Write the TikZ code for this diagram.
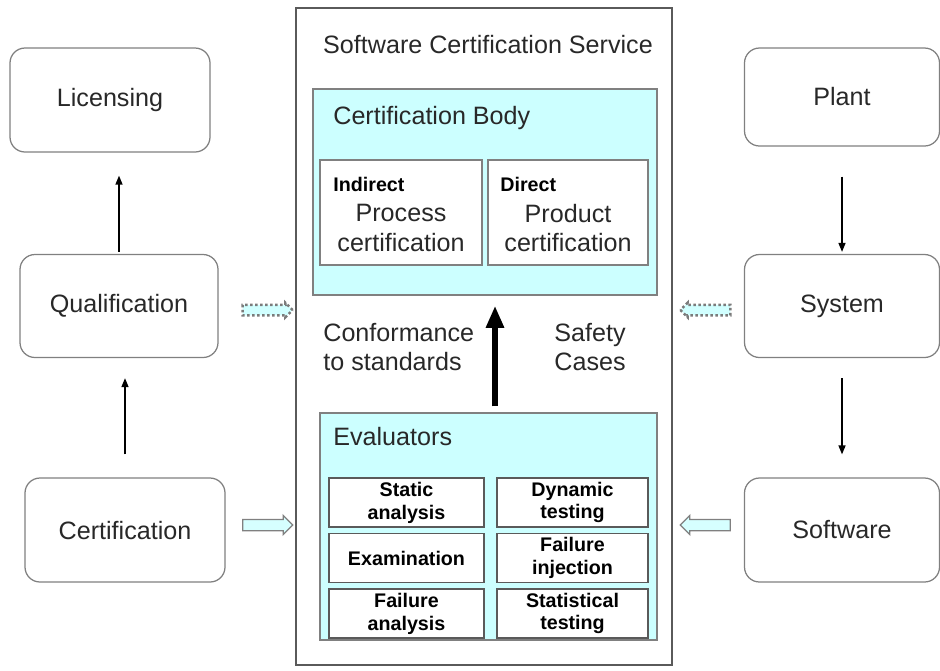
\documentclass[tikz,border=0pt]{standalone}
\usepackage{fontspec}
\setmainfont{Liberation Sans}
\usetikzlibrary{shapes.arrows,arrows.meta,calc}

\definecolor{bodycyan}{RGB}{204,255,255}
\definecolor{edgegray}{RGB}{128,128,128}
\definecolor{framegray}{RGB}{90,90,90}
\definecolor{textgray}{RGB}{40,40,40}

\tikzset{
  bigfont/.style={font=\fontsize{14.3}{17}\selectfont},
  roundbox/.style={draw=edgegray, line width=0.25mm, rounded corners=3mm,
    fill=white, text=textgray, bigfont},
  panel/.style={draw=edgegray, line width=0.3mm, fill=bodycyan},
  kindbox/.style={draw=edgegray, line width=0.3mm, fill=white,
    minimum height=21mm, inner sep=0pt},
  evalbox/.style={draw=framegray, line width=0.3mm, fill=white, align=center,
    minimum height=9.8mm, inner sep=0pt,
    font=\fontsize{11.2}{13}\selectfont\bfseries},
  label/.style={text=textgray, bigfont, inner sep=0pt},
  flow/.style={line width=0.3mm, -{Triangle[length=1.8mm,width=1.4mm]}},
  hollowarrow/.style={single arrow, draw=edgegray, fill=bodycyan!80,
    line width=0.25mm, inner sep=1mm, single arrow head extend=0.8mm,
    single arrow head indent=0mm, minimum height=10mm},
  dotarrow/.style={single arrow, draw=framegray!80, fill=bodycyan!90,
    line width=0.5mm, dash pattern=on 0.5mm off 0.5mm, inner sep=0.8mm,
    single arrow head extend=0.4mm, minimum height=10mm}
}

\begin{document}
\begin{tikzpicture}[x=0.2mm, y=-0.2mm]
\useasboundingbox (0,0) rectangle (940,670);

%%%%%%%%%%%% Left column
\node[roundbox, minimum width=40mm, minimum height=20.8mm] (lic) at (110,100) {Licensing};
\node[roundbox, minimum width=39.6mm, minimum height=20.6mm] (qual) at (119,306) {Qualification};
\node[roundbox, minimum width=40mm, minimum height=20.8mm] (cert) at (125,530) {Certification};

\draw[flow, shorten <=0.4mm, shorten >=4.6mm] (qual.north) -- (qual.north |- lic.south);
\draw[flow, shorten <=4.6mm, shorten >=4mm] (cert.north) -- (cert.north |- qual.south);

%%%%%%%%%%%% Right column
\node[roundbox, minimum width=39mm, minimum height=19.6mm] (plant) at (842,97) {Plant};
\node[roundbox, minimum width=39mm, minimum height=20.6mm] (sys) at (842,306) {System};
\node[roundbox, minimum width=39mm, minimum height=20.8mm] (soft) at (842,530) {Software};

\draw[flow, shorten <=6mm, shorten >=0.4mm] (plant.south) -- (sys.north);
\draw[flow, shorten <=4mm, shorten >=4.6mm] (sys.south) -- (soft.north);

%%%%%%%%%%%% Certification service
\node[draw=framegray, line width=0.35mm, minimum width=75.2mm, minimum height=131.4mm] (svc) at (484,336.5) {};
\node[label] (title) at (488,45) {Software Certification Service};

% certification body
\node[panel, minimum width=68.8mm, minimum height=41.2mm] (body) at (485,192) {};
\node[label, anchor=west] (bodytitle) at (333,118) {Certification Body};

\node[kindbox, minimum width=32.4mm] (indirect) at (401,212.5) {};
\node[kindbox, minimum width=32mm] (direct) at (568,212.5) {};
\node[anchor=west, inner sep=0pt, font=\fontsize{11.2}{13}\selectfont\bfseries] (indlbl) at (333,184) {Indirect};
\node[anchor=west, inner sep=0pt, font=\fontsize{11.2}{13}\selectfont\bfseries] (dirlbl) at (500,184) {Direct};
\node[label, align=center] (process) at (401,228) {Process\\certification};
\node[label, align=center] (product) at (568,228) {Product\\certification};

% evaluators
\node[panel, minimum width=67.4mm, minimum height=45.4mm] (eval) at (488.5,526.5) {};
\node[label, anchor=west] (evaltitle) at (333,437) {Evaluators};

\foreach \name/\x/\y/\w/\txt in {
    sa/406.5/502.5/31/{Static\\analysis},
    ex/406.5/558/31/{Examination},
    fa/406.5/613.5/31/{Failure\\analysis},
    dt/572.5/502.5/30.2/{Dynamic\\testing},
    fi/572.5/558/30.2/{Failure\\injection},
    st/572.5/613.5/30.2/{Statistical\\testing}}
  \node[evalbox, minimum width=\w mm] (\name) at (\x,\y) {\txt};

% evidence passed up to the body
\draw[line width=1.2mm, -{Triangle[length=4.4mm,width=3.4mm]},
  shorten <=1.2mm, shorten >=2mm] ([xshift=1.3mm]eval.north) -- ([xshift=1.3mm]eval.north |- body.south);
\node[label, anchor=west, align=left] (conf) at (323,347) {Conformance\\to standards};
\node[label, align=center] (safety) at (590,347) {Safety\\Cases};

%%%%%%%%%%%% Inputs to the service
\node[dotarrow] (qualin) at (265,310) {};
\node[dotarrow, shape border rotate=180] (sysin) at (708,310) {};
\node[hollowarrow] (certin) at (265,525) {};
\node[hollowarrow, shape border rotate=180] (softin) at (708,525) {};

\end{tikzpicture}
\end{document}
